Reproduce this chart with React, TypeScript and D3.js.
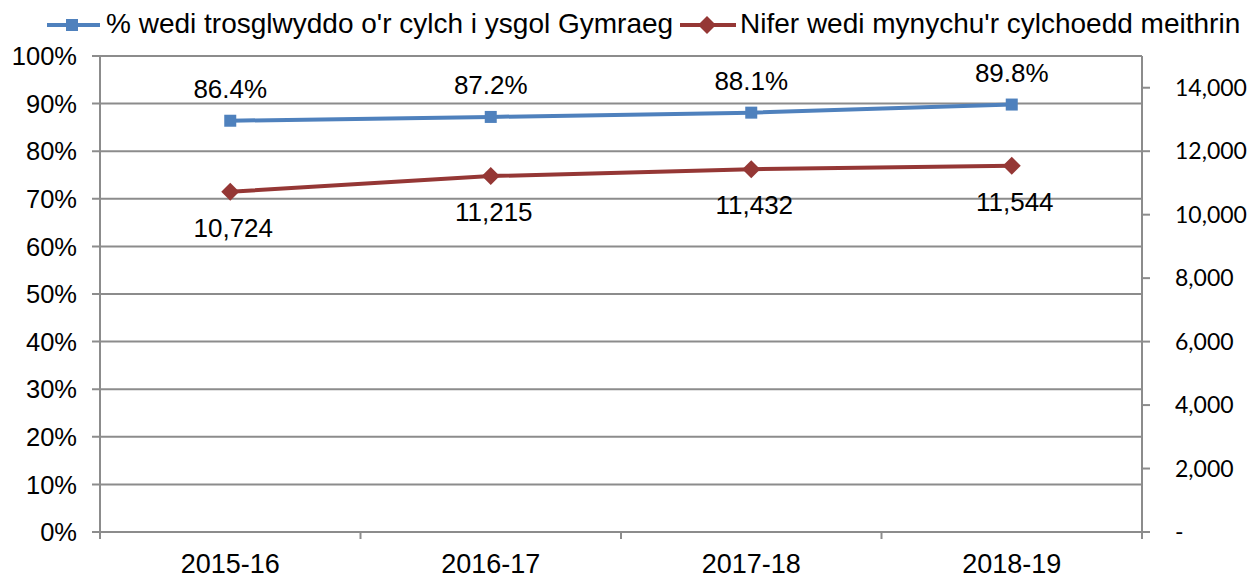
import React from "react";
import * as d3 from "d3";

const categories = ["2015-16", "2016-17", "2017-18", "2018-19"];
const pctValues = [86.4, 87.2, 88.1, 89.8];
const countValues = [10724, 11215, 11432, 11544];
const pctTicks = [0, 10, 20, 30, 40, 50, 60, 70, 80, 90, 100];
const countTicks = [0, 2000, 4000, 6000, 8000, 10000, 12000, 14000];
const seriesNames = ["% wedi trosglwyddo o'r cylch i ysgol Gymraeg", "Nifer wedi mynychu'r cylchoedd meithrin"];

const W = 1250, H = 578;
const left = 100, right = 1142, top = 56, bottom = 532;
const BLUE = "#4F81BD", RED = "#953735", GRID = "#8C8C8C";
const FONT = "'Liberation Sans', Arial, sans-serif";

export default function App() {
  const x = d3.scaleBand<string>().domain(categories).range([left, right]).paddingInner(0).paddingOuter(0);
  const yL = d3.scaleLinear().domain([0, 100]).range([bottom, top]);
  const yR = d3.scaleLinear().domain([0, 15000]).range([bottom, top]);
  const cx = (c: string) => (x(c) as number) + x.bandwidth() / 2;
  const lineL = d3.line<number>().x((_, i) => cx(categories[i])).y((d) => yL(d));
  const lineR = d3.line<number>().x((_, i) => cx(categories[i])).y((d) => yR(d));
  const fmtCount = d3.format(",");
  const boundaries = [...categories.map((c) => x(c) as number), right];

  return (
    <svg width={W} height={H} style={{ position: "absolute", left: 0, top: 0, background: "#fff" }}>
      {pctTicks.map((t) => (
        <line key={"g" + t} x1={left - 8} x2={right} y1={yL(t)} y2={yL(t)} stroke={GRID} strokeWidth={2} />
      ))}
      <line x1={left} x2={left} y1={top} y2={bottom + 7} stroke={GRID} strokeWidth={2} />
      <line x1={right} x2={right} y1={top} y2={bottom + 7} stroke={GRID} strokeWidth={2} />
      {countTicks.map((t) => (
        <line key={"rt" + t} x1={right} x2={right + 8} y1={yR(t)} y2={yR(t)} stroke={GRID} strokeWidth={2} />
      ))}
      {boundaries.map((b, i) => (
        <line key={"xt" + i} x1={b} x2={b} y1={bottom} y2={bottom + 7} stroke={GRID} strokeWidth={2} />
      ))}
      {pctTicks.map((t) => (
        <text key={"lt" + t} x={77} y={yL(t)} dy="0.36em" textAnchor="end" fontFamily={FONT} fontSize={25.5} fill="#000">
          {t + "%"}
        </text>
      ))}
      {countTicks.map((t) => (
        <text key={"rl" + t} x={1175} y={yR(t)} dy="0.36em" textAnchor="start" fontFamily="Lato, 'Open Sans', sans-serif" fontSize={23} fill="#000">
          {t === 0 ? "-" : fmtCount(t)}
        </text>
      ))}
      {categories.map((c) => (
        <text key={"xl" + c} x={cx(c)} y={573} textAnchor="middle" fontFamily={FONT} fontSize={27} fill="#000">
          {c}
        </text>
      ))}
      <path d={lineL(pctValues) || ""} fill="none" stroke={BLUE} strokeWidth={4} />
      <path d={lineR(countValues) || ""} fill="none" stroke={RED} strokeWidth={4} />
      {pctValues.map((v, i) => (
        <rect key={"bm" + i} x={cx(categories[i]) - 6} y={yL(v) - 6} width={12} height={12} fill={BLUE} />
      ))}
      {countValues.map((v, i) => {
        const px = cx(categories[i]), py = yR(v);
        return <path key={"rm" + i} d={`M${px},${py - 9}L${px + 9},${py}L${px},${py + 9}L${px - 9},${py}Z`} fill={RED} />;
      })}
      {pctValues.map((v, i) => (
        <text key={"pl" + i} x={cx(categories[i])} y={yL(v) - 23} textAnchor="middle" fontFamily={FONT} fontSize={26} fill="#000">
          {v.toFixed(1) + "%"}
        </text>
      ))}
      {countValues.map((v, i) => (
        <text key={"cl" + i} x={cx(categories[i]) + 3} y={yR(v) + 45} textAnchor="middle" fontFamily={FONT} fontSize={26} fill="#000">
          {fmtCount(v)}
        </text>
      ))}
      <line x1={47} x2={100} y1={25} y2={25} stroke={BLUE} strokeWidth={4} />
      <rect x={66} y={19} width={12} height={12} fill={BLUE} />
      <text x={106} y={33} fontFamily={FONT} fontSize={28} fill="#000">{seriesNames[0]}</text>
      <line x1={680} x2={736} y1={25} y2={25} stroke={RED} strokeWidth={4} />
      <path d="M707,16L716,25L707,34L698,25Z" fill={RED} />
      <text x={740} y={33} fontFamily={FONT} fontSize={28} fill="#000">{seriesNames[1]}</text>
    </svg>
  );
}
